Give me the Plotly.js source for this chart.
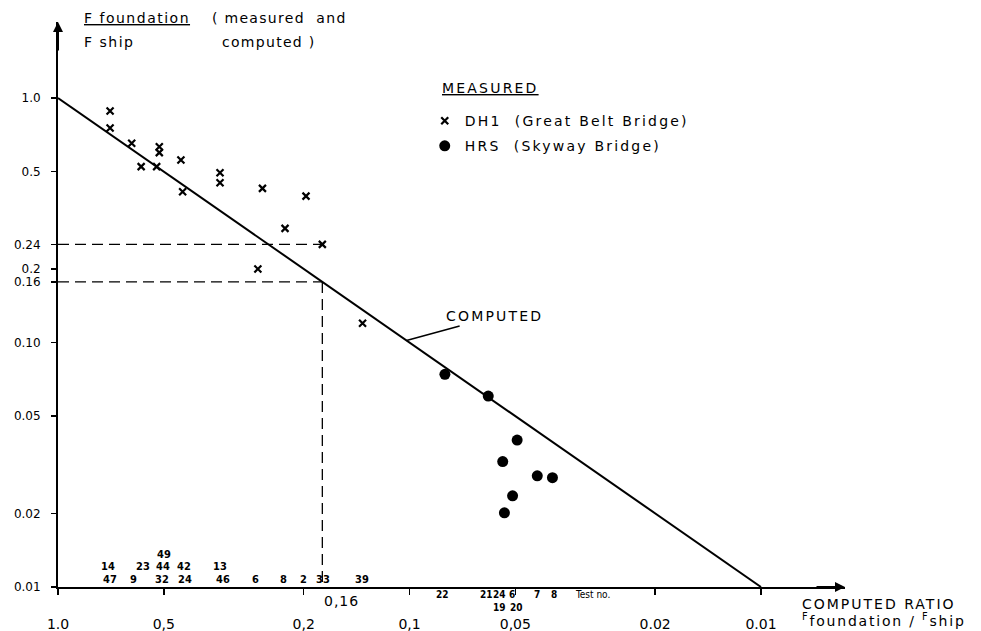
<!DOCTYPE html>
<html>
<head>
<meta charset="utf-8">
<script src="https://cdn.plot.ly/plotly-3.0.1.min.js"></script>
<style>html,body{margin:0;padding:0;background:#fff}</style>
</head>
<body>
<div id="chart" style="width:981px;height:631px"></div>
<script>
// ---- data ----
const computedX = [1.0, 0.01];
const computedY = [1.0, 0.01];

const dh1X = [0.711, 0.711, 0.617, 0.515, 0.515, 0.447, 0.580, 0.524, 0.346, 0.346, 0.442, 0.262, 0.197, 0.226, 0.177, 0.270, 0.136];
const dh1Y = [0.885, 0.754, 0.653, 0.632, 0.598, 0.558, 0.524, 0.524, 0.495, 0.450, 0.414, 0.427, 0.397, 0.293, 0.252, 0.200, 0.120];

const hrsX = [0.0793, 0.0597, 0.0494, 0.0543, 0.0433, 0.0392, 0.0509, 0.0537];
const hrsY = [0.0741, 0.0604, 0.0399, 0.0326, 0.0285, 0.0280, 0.0236, 0.0201];

// Great Belt example as drawn: computed 0.16, measured 0.24
const exampleComputed = 0.177;
const exampleMeasured = 0.252;

// test numbers (DH1, above the axis) – three rows
const testRow1 = ['47', '9', '32', '24', '46', '6', '8', '2', '33', '39'];
const testRow1X = [0.711, 0.608, 0.506, 0.435, 0.339, 0.275, 0.229, 0.1996, 0.176, 0.1365];
const testRow2 = ['14', '23', '44', '42', '13'];
const testRow2X = [0.721, 0.573, 0.503, 0.438, 0.346];
const testRow3 = ['49'];
const testRow3X = [0.499];
// test numbers (HRS, below the axis) – two rows
const hrsRow1 = ['22', '21', '24', '6', '7', '8'];
const hrsRow1X = [0.0803, 0.0602, 0.0556, 0.0511, 0.0434, 0.0388];
const hrsRow2 = ['19', '20'];
const hrsRow2X = [0.0555, 0.0495];
const testNoX = 0.0343;

const xTickVals = [1, 0.5, 0.2, 0.1, 0.05, 0.02, 0.01];
const xTickText = ['1.0', '0,5', '0,2', '0,1', '0,05', '0.02', '0.01'];
const yTickVals = [1, 0.5, exampleMeasured, 0.2, exampleComputed, 0.1, 0.05, 0.02, 0.01];
const yTickText = ['1.0', '0.5', '0.24', '0.2', '0.16', '0.10', '0.05', '0.02', '0.01'];

// ---- styling ----
const FONT = 'DejaVu Sans, Verdana, sans-serif';
const NUMFONT = 'DejaVu Sans Condensed, Liberation Sans Narrow, DejaVu Sans, sans-serif';
const sp = (t, s) => '<span style="letter-spacing:' + s + 'px">' + t + '</span>';

const traces = [
  { x: computedX, y: computedY, mode: 'lines', line: { color: '#000', width: 2 }, showlegend: false, hoverinfo: 'skip' },
  { x: [1, exampleComputed], y: [exampleMeasured, exampleMeasured], mode: 'lines',
    line: { color: '#000', width: 1.3, dash: '11px,6px' }, showlegend: false, hoverinfo: 'skip' },
  { x: [1, exampleComputed], y: [exampleComputed, exampleComputed], mode: 'lines',
    line: { color: '#000', width: 1.3, dash: '11px,6px' }, showlegend: false, hoverinfo: 'skip' },
  { x: [exampleComputed, exampleComputed], y: [exampleComputed, 0.01], mode: 'lines',
    line: { color: '#000', width: 1.3, dash: '11px,6px' }, showlegend: false, hoverinfo: 'skip' },
  { x: dh1X, y: dh1Y, mode: 'markers', name: sp('DH1  (Great Belt Bridge)', 2.2), legendgroup: 'a',
    marker: { symbol: 'x-thin', size: 7, color: '#000', line: { color: '#000', width: 2.2 } } },
  { x: hrsX, y: hrsY, mode: 'markers', name: sp('HRS  (Skyway Bridge)', 2.2), legendgroup: 'b',
    marker: { symbol: 'circle', size: 11, color: '#000' } }
];

const annotations = [];
function numLabel(text, xv, yshift, size, anchor) {
  annotations.push({ xref: 'x', yref: 'paper', x: Math.log10(xv), y: 0, yshift: yshift,
    xanchor: anchor || 'center', yanchor: 'middle', showarrow: false, text: text,
    font: { family: NUMFONT, size: size, color: '#000', weight: 'bold' } });
}
testRow1.forEach((t, i) => numLabel(t, testRow1X[i], 8, 11));
testRow2.forEach((t, i) => numLabel(t, testRow2X[i], 21, 11));
testRow3.forEach((t, i) => numLabel(t, testRow3X[i], 33, 11));
hrsRow1.forEach((t, i) => numLabel(t, hrsRow1X[i], -7, 10));
hrsRow2.forEach((t, i) => numLabel(t, hrsRow2X[i], -20, 10));
annotations.push({ xref: 'x', yref: 'paper', x: Math.log10(testNoX), y: 0, yshift: -7,
  xanchor: 'left', yanchor: 'middle', showarrow: false, text: 'Test no.',
  font: { family: NUMFONT, size: 10, color: '#000' } });

// 0,16 on x axis
annotations.push({ xref: 'x', yref: 'paper', x: Math.log10(exampleComputed), y: 0, yshift: -14,
  xanchor: 'left', yanchor: 'middle', showarrow: false, text: sp('0,16', 1),
  font: { family: FONT, size: 14, color: '#000' } });

// COMPUTED leader
annotations.push({ xref: 'x', yref: 'y', x: Math.log10(0.102), y: Math.log10(0.102),
  ax: 88, ay: -24, showarrow: true, arrowhead: 0, arrowwidth: 1.5, arrowcolor: '#000',
  text: sp('COMPUTED', 2.2), font: { family: FONT, size: 14, color: '#000' } });

// legend heading
annotations.push({ xref: 'paper', yref: 'paper', x: 0.4854, y: 0.883, xanchor: 'left', yanchor: 'middle',
  showarrow: false, text: '<u>' + sp('MEASURED', 2.2) + '</u>', font: { family: FONT, size: 14, color: '#000' } });

// axis titles
const small = { family: FONT, size: 14, color: '#000' };
annotations.push({ xref: 'paper', yref: 'paper', x: 0.9428, y: 0, yshift: -17, xanchor: 'left', yanchor: 'middle',
  showarrow: false, text: sp('COMPUTED RATIO', 2), font: small });
annotations.push({ xref: 'paper', yref: 'paper', x: 0.9428, y: 0, yshift: -33, xanchor: 'left', yanchor: 'middle',
  showarrow: false, text: sp('<sup>F</sup>foundation / <sup>F</sup>ship', 1.8), font: small });
annotations.push({ xref: 'paper', yref: 'paper', x: 0.0305, y: 1, yshift: 4, xanchor: 'left', yanchor: 'middle',
  showarrow: false, text: '<u>' + sp('F foundation', 1.5) + '</u>', font: small });
annotations.push({ xref: 'paper', yref: 'paper', x: 0.0305, y: 1, yshift: -20, xanchor: 'left', yanchor: 'middle',
  showarrow: false, text: sp('F ship', 1.5), font: small });
annotations.push({ xref: 'paper', yref: 'paper', x: 0.193, y: 1, yshift: 4, xanchor: 'left', yanchor: 'middle',
  showarrow: false, text: sp('( measured  and', 1.3), font: small });
annotations.push({ xref: 'paper', yref: 'paper', x: 0.2058, y: 1, yshift: -20, xanchor: 'left', yanchor: 'middle',
  showarrow: false, text: sp('computed )', 1.3), font: small });

// axis arrowheads
annotations.push({ xref: 'paper', yref: 'paper', x: 0, y: 1, ax: 0, ay: 30, text: '', showarrow: true,
  arrowhead: 2, arrowsize: 1, arrowwidth: 2, arrowcolor: '#000' });
annotations.push({ xref: 'paper', yref: 'paper', x: 1, y: 0, ax: -30, ay: 0, text: '', showarrow: true,
  arrowhead: 2, arrowsize: 1, arrowwidth: 2, arrowcolor: '#000' });

const layout = {
  width: 981, height: 631,
  margin: { l: 58, r: 136, t: 22, b: 44, pad: 0 },
  paper_bgcolor: '#fff', plot_bgcolor: '#fff',
  font: { family: FONT, color: '#000' },
  showlegend: true,
  legend: {
    x: 0.466, y: 0.853, xanchor: 'left', yanchor: 'top',
    traceorder: 'grouped', tracegroupgap: 4,
    font: { family: FONT, size: 14, color: '#000' },
    bgcolor: 'rgba(0,0,0,0)', borderwidth: 0
  },
  xaxis: {
    type: 'log', range: [0, -2.239], showgrid: false, zeroline: false,
    showline: true, linecolor: '#000', linewidth: 2,
    ticks: 'outside', ticklen: 6, tickwidth: 1.5, tickcolor: '#000',
    tickmode: 'array', tickvals: xTickVals, ticktext: xTickText,
    tickfont: { family: FONT, size: 14, color: '#000' }, ticklabelstandoff: 17
  },
  yaxis: {
    type: 'log', range: [-2, 0.311], showgrid: false, zeroline: false,
    showline: true, linecolor: '#000', linewidth: 2,
    ticks: 'outside', ticklen: 5, tickwidth: 1.5, tickcolor: '#000',
    tickmode: 'array', tickvals: yTickVals, ticktext: yTickText,
    tickfont: { family: FONT, size: 12, color: '#000' }, ticklabelstandoff: 8
  },
  annotations: annotations
};

Plotly.newPlot('chart', traces, layout, { displayModeBar: false, staticPlot: true });
</script>
</body>
</html>
